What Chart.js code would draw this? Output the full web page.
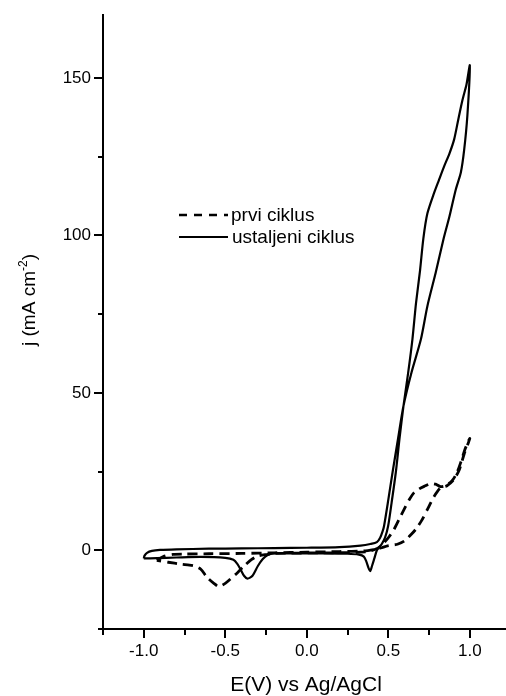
<!DOCTYPE html>
<html>
<head>
<meta charset="utf-8">
<script src="https://cdn.jsdelivr.net/npm/chart.js@4.4.1/dist/chart.umd.min.js"></script>
<style>
html, body { margin: 0; padding: 0; background: #fff; }
</style>
</head>
<body>
<canvas id="cvChart" width="506" height="696"></canvas>
<script>
// ustaljeni ciklus (steady cycle), closed loop: anodic scan then cathodic scan
var solidE = [-1.00, -0.995, -0.98, -0.95, -0.90, -0.80, -0.60, -0.40, -0.20, 0.00, 0.20, 0.33, 0.39, 0.43, 0.45, 0.465, 0.474, 0.50, 0.526, 0.56, 0.593, 0.642, 0.70, 0.74, 0.791, 0.838, 0.875, 0.914, 0.945, 0.965, 0.985, 1.00,
              0.98, 0.955, 0.93, 0.904, 0.875, 0.843, 0.81, 0.781, 0.74, 0.715, 0.695, 0.67, 0.648, 0.622, 0.593, 0.57, 0.546, 0.52, 0.499, 0.48, 0.46, 0.445, 0.43, 0.415, 0.40, 0.389, 0.378, 0.365, 0.35, 0.32, 0.25, 0.10, -0.10, -0.20, -0.24, -0.27, -0.30, -0.333, -0.364, -0.385, -0.405, -0.425, -0.45, -0.50, -0.65, -0.80, -0.92, -1.00];
var solidJ = [-2.6, -1.7, -0.8, -0.2, 0.1, 0.3, 0.5, 0.6, 0.7, 0.8, 1.0, 1.5, 2.0, 2.6, 4.0, 6.0, 7.7, 16, 24.7, 35.5, 45.8, 56.4, 67, 77.6, 88.2, 98.7, 106, 114.6, 120, 127, 138, 154,
              148, 143, 137, 130.5, 126, 122, 117.5, 113.5, 107, 99, 89, 78.5, 67, 56.4, 45.8, 36, 24.7, 15, 7.7, 4.0, 2.0, 1.0, 0.0, -2.5, -5.0, -6.6, -5.5, -3.5, -2.0, -1.4, -1.1, -1.0, -1.0, -1.0, -1.5, -2.8, -5.0, -8.1, -9.0, -8.1, -6.2, -4.4, -3.0, -2.4, -2.1, -2.3, -2.5, -2.6];

// prvi ciklus (first cycle)
var dashE = [-0.92, -0.88, -0.82, -0.75, -0.60, -0.40, -0.20, 0.00, 0.20, 0.35, 0.42, 0.46, 0.495, 0.53, 0.556, 0.60, 0.64, 0.669, 0.705, 0.74, 0.78, 0.82, 0.86, 0.90, 0.935, 0.965, 0.99, 1.00,
             0.99, 0.97, 0.945, 0.92, 0.89, 0.85, 0.82, 0.79, 0.761, 0.72, 0.69, 0.658, 0.63, 0.597, 0.566, 0.536, 0.505, 0.474, 0.45, 0.42, 0.38, 0.30, 0.10, -0.10, -0.20, -0.24, -0.30, -0.34, -0.385, -0.425, -0.47, -0.50, -0.54, -0.57, -0.61, -0.65, -0.69, -0.72, -0.773, -0.85, -0.92];
var dashJ = [-3.2, -2.0, -1.3, -1.2, -1.1, -1.0, -0.8, -0.6, -0.4, -0.2, 0.3, 0.8, 1.4, 1.7, 1.9, 3.0, 5.0, 6.7, 9.5, 13, 17, 19.8, 20.5, 22.3, 25.5, 30.5, 34, 35.5,
             34.5, 32, 28, 24.5, 22, 20.5, 20.2, 21, 21.2, 20.3, 19.5, 18.3, 16.2, 13, 9.8, 6.7, 4.3, 2.4, 1.2, 0.3, -0.4, -0.7, -0.8, -0.9, -1.0, -1.3, -1.8, -3.0, -5.0, -7.1, -9.2, -10.5, -11.5, -10.5, -8.7, -6.0, -5.0, -4.7, -4.4, -3.8, -3.2];

var xTicks = [-1.0, -0.5, 0.0, 0.5, 1.0];
var xMinor = [-1.25, -0.75, -0.25, 0.25, 0.75];
var yTicks = [0, 50, 100, 150];
var yMinor = [-25, 25, 75, 125];

var seriesNames = ['prvi ciklus', 'ustaljeni ciklus'];

function toPoints(xs, ys) {
    return xs.map(function(v, i) { return { x: v, y: ys[i] }; });
}

var FONT = '"Liberation Sans", Arial, sans-serif';

// small outside ticks between the labelled ones
var minorTicks = {
    id: 'minorTicks',
    afterDraw: function(chart) {
        var ctx = chart.ctx, x = chart.scales.x, y = chart.scales.y;
        ctx.save();
        ctx.strokeStyle = '#000';
        ctx.lineWidth = 2;
        xMinor.forEach(function(v) {
            var px = Math.round(x.getPixelForValue(v));
            ctx.beginPath(); ctx.moveTo(px, x.top); ctx.lineTo(px, x.top + 6); ctx.stroke();
        });
        yMinor.forEach(function(v) {
            var py = Math.round(y.getPixelForValue(v));
            ctx.beginPath(); ctx.moveTo(y.right - 5, py); ctx.lineTo(y.right, py); ctx.stroke();
        });
        ctx.restore();
    }
};

// axis titles (y title needs a superscript) and the in-plot legend
var labels = {
    id: 'labels',
    afterDraw: function(chart) {
        var ctx = chart.ctx, area = chart.chartArea;
        ctx.save();
        ctx.fillStyle = '#000';

        ctx.font = '21px ' + FONT;
        ctx.textAlign = 'center';
        ctx.textBaseline = 'alphabetic';
        ctx.fillText('E(V) vs Ag/AgCl', 306, 691);

        // y title, rotated
        ctx.save();
        ctx.translate(35, 300);
        ctx.rotate(-Math.PI / 2);
        var main = 'j (mA cm', sup = '-2', end = ')';
        ctx.font = '19px ' + FONT;
        var w1 = ctx.measureText(main).width, w3 = ctx.measureText(end).width;
        ctx.font = '12px ' + FONT;
        var w2 = ctx.measureText(sup).width;
        var x0 = -(w1 + w2 + w3) / 2;
        ctx.textAlign = 'left';
        ctx.font = '19px ' + FONT;
        ctx.fillText(main, x0, 0);
        ctx.font = '12px ' + FONT;
        ctx.fillText(sup, x0 + w1, -8);
        ctx.font = '19px ' + FONT;
        ctx.fillText(end, x0 + w1 + w2, 0);
        ctx.restore();

        // legend
        ctx.strokeStyle = '#000';
        ctx.lineWidth = 2.5;
        ctx.setLineDash([8, 7]);
        ctx.beginPath(); ctx.moveTo(179, 215); ctx.lineTo(228, 215); ctx.stroke();
        ctx.setLineDash([]);
        ctx.lineWidth = 2;
        ctx.beginPath(); ctx.moveTo(179, 237); ctx.lineTo(228, 237); ctx.stroke();
        ctx.font = '19px ' + FONT;
        ctx.textAlign = 'left';
        ctx.fillText(seriesNames[0], 231, 221);
        ctx.fillText(seriesNames[1], 232, 243);
        ctx.restore();
    }
};

var ctx = document.getElementById('cvChart').getContext('2d');
var cvChart = new Chart(ctx, {
    type: 'scatter',
    data: {
        datasets: [{
            label: seriesNames[0],
            data: toPoints(dashE, dashJ),
            showLine: true,
            borderColor: '#000',
            borderWidth: 2.8,
            borderDash: [10, 6],
            pointRadius: 0,
            tension: 0.25
        }, {
            label: seriesNames[1],
            data: toPoints(solidE, solidJ),
            showLine: true,
            borderColor: '#000',
            borderWidth: 2.2,
            pointRadius: 0,
            tension: 0.25
        }]
    },
    options: {
        responsive: false,
        animation: false,
        devicePixelRatio: 1,
        layout: { padding: { top: 15, left: 0, right: 0, bottom: 0 } },
        plugins: {
            legend: { display: false },
            tooltip: { enabled: false }
        },
        scales: {
            x: {
                type: 'linear',
                min: -1.25,
                max: 1.222,
                afterFit: function(s) { s.height = 67; },
                afterBuildTicks: function(s) { s.ticks = xTicks.map(function(v) { return { value: v }; }); },
                border: { display: true, color: '#000', width: 2 },
                grid: { display: true, drawOnChartArea: false, drawTicks: true, tickLength: 9, color: '#000', lineWidth: 2 },
                ticks: {
                    color: '#000',
                    font: { family: FONT, size: 17 },
                    padding: 3,
                    maxRotation: 0,
                    autoSkip: false,
                    callback: function(v) { return Number(v).toFixed(1); }
                }
            },
            y: {
                type: 'linear',
                min: -25,
                max: 170,
                afterFit: function(s) { s.width = 103; },
                afterBuildTicks: function(s) { s.ticks = yTicks.map(function(v) { return { value: v }; }); },
                border: { display: true, color: '#000', width: 2 },
                grid: { display: true, drawOnChartArea: false, drawTicks: true, tickLength: 9, color: '#000', lineWidth: 2 },
                ticks: {
                    color: '#000',
                    font: { family: FONT, size: 17 },
                    padding: 3,
                    autoSkip: false,
                    callback: function(v) { return String(v); }
                }
            }
        }
    },
    plugins: [minorTicks, labels]
});
</script>
</body>
</html>
